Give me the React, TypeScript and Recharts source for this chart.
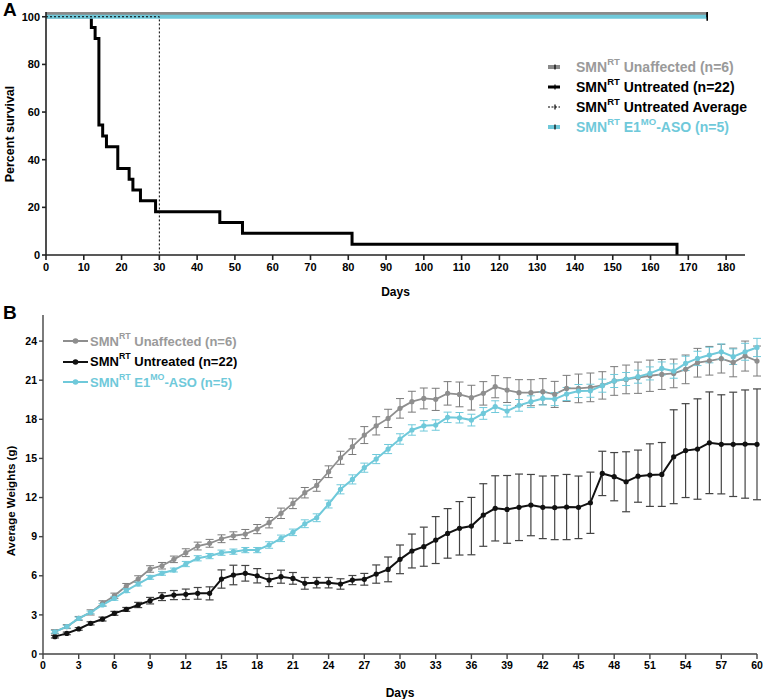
import React from 'react';
import { LineChart, Line, XAxis, YAxis, ErrorBar, Legend, Label } from 'recharts';

const FONT = '"Liberation Sans", Arial, Helvetica, sans-serif';
const GRAY = '#8e8e8e';
const CYAN = '#6fc9da';

// ---------- Panel A: survival ----------
const survivalXTicks = [0, 10, 20, 30, 40, 50, 60, 70, 80, 90, 100, 110, 120, 130, 140, 150, 160, 170, 180];
const survivalYTicks = [0, 20, 40, 60, 80, 100];
const untreatedDays = [0, 12, 13, 14, 15, 16, 19, 22, 23, 25, 29, 46, 52, 81, 167];
const untreatedSurvival = [100, 95.45, 90.91, 54.55, 50, 45.45, 36.36, 31.82, 27.27, 22.73, 18.18, 13.64, 9.09, 4.55, 0];
const unaffectedDays = [0, 175];
const unaffectedSurvival = [101.5, 101.5]; // drawn slightly offset above 100 as in the figure
const asoDays = [0, 175];
const asoSurvival = [100, 100];
const averageDays = [0, 30, 30];
const averageSurvival = [100, 100, 0];

// ---------- Panel B: weights ----------
const weightDays = Array.from({ length: 60 }, (_, i) => i + 1);
const weightXTicks = [0, 3, 6, 9, 12, 15, 18, 21, 24, 27, 30, 33, 36, 39, 42, 45, 48, 51, 54, 57, 60];
const weightYTicks = [0, 3, 6, 9, 12, 15, 18, 21, 24];
const unaffectedWeight = [
  1.71, 2.1, 2.73, 3.19, 3.88, 4.47, 5.21, 5.75, 6.52, 6.77,
  7.26, 7.77, 8.28, 8.49, 8.84, 9.07, 9.2, 9.58, 10.07, 10.79,
  11.55, 12.37, 12.93, 13.98, 15.05, 15.9, 16.79, 17.5, 18.07, 18.84,
  19.35, 19.6, 19.53, 19.99, 19.91, 19.66, 19.99, 20.5, 20.24, 20.04,
  20.04, 20.12, 19.91, 20.37, 20.37, 20.45, 20.6, 20.94, 21.06, 21.19,
  21.34, 21.44, 21.52, 21.83, 22.34, 22.49, 22.65, 22.36, 22.85, 22.47,
];
const unaffectedErr = [
  0.15, 0.15, 0.15, 0.2, 0.2, 0.2, 0.2, 0.25, 0.25, 0.25,
  0.25, 0.3, 0.3, 0.3, 0.3, 0.3, 0.35, 0.35, 0.4, 0.4,
  0.4, 0.4, 0.45, 0.45, 0.5, 0.6, 0.65, 0.7, 0.7, 0.75,
  0.8, 0.8, 0.85, 0.9, 0.95, 0.95, 0.9, 0.85, 0.95, 1.0,
  1.0, 1.0, 1.0, 1.0, 1.1, 1.1, 1.05, 1.1, 1.1, 1.2,
  1.2, 1.15, 1.1, 1.1, 1.1, 1.1, 1.1, 1.1, 1.15, 1.15,
];
const untreatedWeight = [
  1.33, 1.58, 1.92, 2.35, 2.68, 3.12, 3.42, 3.76, 4.09, 4.4,
  4.52, 4.58, 4.65, 4.65, 5.75, 6.06, 6.19, 6.0, 5.67, 5.93,
  5.8, 5.42, 5.47, 5.47, 5.37, 5.67, 5.73, 6.13, 6.49, 7.26,
  7.9, 8.23, 8.74, 9.25, 9.64, 9.81, 10.66, 11.17, 11.09, 11.25,
  11.42, 11.25, 11.22, 11.27, 11.25, 11.6, 13.85, 13.6, 13.21, 13.64,
  13.72, 13.77, 15.13, 15.6, 15.72, 16.2, 16.08, 16.08, 16.1, 16.08,
];
const untreatedErr = [
  0.1, 0.1, 0.1, 0.12, 0.15, 0.15, 0.15, 0.2, 0.25, 0.3,
  0.35, 0.4, 0.45, 0.5, 0.7, 0.75, 0.6, 0.55, 0.5, 0.5,
  0.45, 0.45, 0.4, 0.4, 0.4, 0.35, 0.45, 0.7, 0.95, 1.1,
  1.3, 1.5, 1.8, 1.9, 2.05, 2.2, 2.4, 2.5, 2.6, 2.55,
  2.35, 2.4, 2.45, 2.5, 2.4, 2.35, 1.7, 1.85, 2.3, 2.0,
  2.4, 2.45, 3.6, 3.6, 3.85, 3.9, 3.8, 4.0, 4.15, 4.25,
];
const asoWeight = [
  1.7, 2.1, 2.73, 3.19, 3.76, 4.27, 4.86, 5.37, 5.88, 6.19,
  6.44, 6.9, 7.34, 7.51, 7.77, 7.85, 7.97, 7.97, 8.36, 8.87,
  9.33, 9.99, 10.45, 11.5, 12.63, 13.39, 14.29, 14.95, 15.72, 16.49,
  17.18, 17.5, 17.56, 18.15, 18.12, 17.94, 18.45, 18.97, 18.63, 19.07,
  19.35, 19.6, 19.55, 19.94, 20.17, 20.19, 20.58, 20.94, 21.09, 21.27,
  21.52, 21.9, 21.7, 22.29, 22.67, 22.93, 23.18, 22.8, 23.18, 23.51,
];
const asoErr = [
  0.1, 0.1, 0.1, 0.1, 0.1, 0.15, 0.15, 0.15, 0.15, 0.15,
  0.15, 0.2, 0.2, 0.2, 0.2, 0.2, 0.2, 0.2, 0.25, 0.25,
  0.25, 0.3, 0.3, 0.3, 0.35, 0.35, 0.35, 0.35, 0.35, 0.4,
  0.4, 0.4, 0.4, 0.4, 0.4, 0.45, 0.45, 0.45, 0.45, 0.45,
  0.45, 0.5, 0.5, 0.5, 0.5, 0.5, 0.5, 0.5, 0.5, 0.5,
  0.5, 0.5, 0.55, 0.55, 0.55, 0.6, 0.6, 0.6, 0.65, 0.7,
];

const toPoints = (xs: number[], ys: number[]) => xs.map((x, i) => ({ day: x, v: ys[i] }));
const untreatedData = toPoints(untreatedDays, untreatedSurvival);
const unaffectedData = toPoints(unaffectedDays, unaffectedSurvival);
const asoData = toPoints(asoDays, asoSurvival);
const averageData = toPoints(averageDays, averageSurvival);

const weightData = weightDays.map((d, i) => ({
  day: d,
  unaffected: unaffectedWeight[i],
  unaffectedErr: unaffectedErr[i],
  untreated: untreatedWeight[i],
  untreatedErr: untreatedErr[i],
  aso: asoWeight[i],
  asoErr: asoErr[i],
}));

const tickStyle = { fontFamily: FONT, fontWeight: 700, fill: '#000' };

const CensorDot = (props: any) => {
  const { cx, cy, index } = props;
  if (index !== 1 || cx == null) return <g key={`c-${index}`} />;
  return <line key={`c-${index}`} x1={cx} x2={cx} y1={cy - 4} y2={cy + 4} stroke="#000" strokeWidth={1.6} />;
};

const supStyle: React.CSSProperties = { fontSize: '0.68em', verticalAlign: 'top', position: 'relative', top: -3 };

const Smn = ({ rest, sup2 }: { rest: string; sup2?: string }) => (
  <span>
    SMN<sup style={supStyle}>RT</sup>
    {sup2 ? (
      <>
        {' E1'}
        <sup style={supStyle}>{sup2}</sup>
        {rest}
      </>
    ) : (
      rest
    )}
  </span>
);

const SurvivalLegend = () => {
  const rows = [
    { color: '#9a9a9a', icon: 'gray', text: <Smn rest=" Unaffected (n=6)" /> },
    { color: '#000', icon: 'black', text: <Smn rest=" Untreated (n=22)" /> },
    { color: '#000', icon: 'dash', text: <Smn rest=" Untreated Average" /> },
    { color: CYAN, icon: 'cyan', text: <Smn rest="-ASO (n=5)" sup2="MO" /> },
  ];
  return (
    <div style={{ position: 'relative', width: 210, height: 80, fontFamily: FONT, fontWeight: 700, fontSize: 14 }}>
      {rows.map((r, i) => (
        <div key={i} style={{ position: 'absolute', left: 0, top: i * 20, height: 20, display: 'flex', alignItems: 'center', whiteSpace: 'nowrap', color: r.color }}>
          <svg width={12} height={10} style={{ marginRight: 16 }}>
            {r.icon === 'gray' && <line x1={0} x2={12} y1={5} y2={5} stroke="#8a8a8a" strokeWidth={4} />}
            {r.icon === 'black' && <line x1={0} x2={12} y1={5} y2={5} stroke="#000" strokeWidth={3} />}
            {r.icon === 'dash' && <line x1={0} x2={12} y1={5} y2={5} stroke="#000" strokeWidth={1} strokeDasharray="2 1.5" />}
            {r.icon === 'cyan' && <line x1={0} x2={12} y1={5} y2={5} stroke={CYAN} strokeWidth={4} />}
            <line x1={7} x2={7} y1={2.5} y2={7.5} stroke="#000" strokeWidth={1.2} />
          </svg>
          {r.text}
        </div>
      ))}
    </div>
  );
};

const WeightLegend = () => {
  const rows = [
    { color: '#9a9a9a', line: GRAY, text: <Smn rest=" Unaffected (n=6)" /> },
    { color: '#000', line: '#111', text: <Smn rest=" Untreated (n=22)" /> },
    { color: CYAN, line: CYAN, text: <Smn rest="-ASO (n=5)" sup2="MO" /> },
  ];
  return (
    <div style={{ position: 'relative', width: 220, height: 62, fontFamily: FONT, fontWeight: 700, fontSize: 13 }}>
      {rows.map((r, i) => (
        <div key={i} style={{ position: 'absolute', left: 0, top: i * 20.5, height: 20, display: 'flex', alignItems: 'center', whiteSpace: 'nowrap', color: r.color }}>
          <svg width={25} height={10} style={{ marginRight: 2 }}>
            <line x1={0} x2={25} y1={5} y2={5} stroke={r.line} strokeWidth={2} />
            <circle cx={12.5} cy={5} r={2.8} fill={r.line} />
          </svg>
          {r.text}
        </div>
      ))}
    </div>
  );
};

export default function App() {
  return (
    <div style={{ position: 'absolute', left: 0, top: 0, width: 764, height: 699, background: '#fff', overflow: 'hidden' }}>
      <div style={{ position: 'absolute', left: 3, top: -1, fontFamily: FONT, fontWeight: 700, fontSize: 19 }}>A</div>
      <div style={{ position: 'absolute', left: 3, top: 302, fontFamily: FONT, fontWeight: 700, fontSize: 19 }}>B</div>

      <div style={{ position: 'absolute', left: 0, top: 0 }}>
        <LineChart width={764} height={300} margin={{ top: 12, right: 19, bottom: 0, left: 6 }}>
          <XAxis
            type="number"
            dataKey="day"
            domain={[0, 185]}
            ticks={survivalXTicks}
            allowDataOverflow
            height={45}
            tick={{ ...tickStyle, fontSize: 11 }}
            tickSize={5}
            tickMargin={3}
            stroke="#222"
            strokeWidth={1.6}
          >
            <Label value="Days" position="insideBottom" offset={4} style={{ fontFamily: FONT, fontWeight: 700, fontSize: 12, fill: '#000' }} />
          </XAxis>
          <YAxis
            type="number"
            domain={[0, 102]}
            ticks={survivalYTicks}
            allowDataOverflow
            width={40}
            tick={{ ...tickStyle, fontSize: 11 }}
            tickSize={4}
            tickMargin={2}
            stroke="#222"
            strokeWidth={1.6}
          >
            <Label
              content={() => (
                <text x={10} y={134} transform="rotate(-90 10 134)" textAnchor="middle" dominantBaseline="central" style={{ fontFamily: FONT, fontWeight: 700, fontSize: 12.5, fill: '#000' }}>
                  Percent survival
                </text>
              )}
            />
          </YAxis>
          <Legend
            layout="vertical"
            align="center"
            verticalAlign="middle"
            content={<SurvivalLegend />}
            wrapperStyle={{ left: 548, top: 57, width: 215, height: 80 }}
          />
          <Line data={untreatedData} dataKey="v" type="stepAfter" stroke="#000" strokeWidth={3} dot={false} isAnimationActive={false} name="Untreated" />
          <Line data={unaffectedData} dataKey="v" type="linear" stroke="#8a8a8a" strokeWidth={4} dot={CensorDot} isAnimationActive={false} name="Unaffected" />
          <Line data={asoData} dataKey="v" type="linear" stroke={CYAN} strokeWidth={4} dot={CensorDot} isAnimationActive={false} name="ASO" />
          <Line data={averageData} dataKey="v" type="linear" stroke="#000" strokeWidth={1} strokeDasharray="2 2" dot={false} isAnimationActive={false} name="Average" />
        </LineChart>
      </div>

      <div style={{ position: 'absolute', left: 0, top: 300 }}>
        <LineChart width={764} height={399} data={weightData} margin={{ top: 15, right: 7, bottom: 0, left: 6 }}>
          <XAxis
            type="number"
            dataKey="day"
            domain={[0, 60]}
            ticks={weightXTicks}
            height={45}
            tick={{ ...tickStyle, fontSize: 10.5 }}
            tickSize={5}
            tickMargin={3}
            stroke="#444"
            strokeWidth={1.4}
          >
            <Label value="Days" position="insideBottom" offset={2} style={{ fontFamily: FONT, fontWeight: 700, fontSize: 12, fill: '#000' }} />
          </XAxis>
          <YAxis
            type="number"
            domain={[0, 26]}
            ticks={weightYTicks}
            width={37}
            tick={{ ...tickStyle, fontSize: 10.5 }}
            tickSize={4}
            tickMargin={2}
            stroke="#444"
            strokeWidth={1.4}
          >
            <Label
              content={() => (
                <text x={11} y={201} transform="rotate(-90 11 201)" textAnchor="middle" dominantBaseline="central" style={{ fontFamily: FONT, fontWeight: 700, fontSize: 11.5, fill: '#000' }}>
                  Average Weights (g)
                </text>
              )}
            />
          </YAxis>
          <Legend
            layout="vertical"
            align="center"
            verticalAlign="middle"
            content={<WeightLegend />}
            wrapperStyle={{ left: 63, top: 31, width: 230, height: 62 }}
          />
          <Line dataKey="unaffected" stroke={GRAY} strokeWidth={1.8} dot={{ r: 2.6, fill: GRAY, stroke: GRAY, strokeWidth: 0 }} isAnimationActive={false}>
            <ErrorBar dataKey="unaffectedErr" direction="y" width={4} stroke="#7a7a7a" strokeWidth={1} />
          </Line>
          <Line dataKey="untreated" stroke="#111" strokeWidth={2} dot={{ r: 2.6, fill: '#111', stroke: '#111', strokeWidth: 0 }} isAnimationActive={false}>
            <ErrorBar dataKey="untreatedErr" direction="y" width={4} stroke="#444" strokeWidth={1.2} />
          </Line>
          <Line dataKey="aso" stroke={CYAN} strokeWidth={2} dot={{ r: 2.6, fill: CYAN, stroke: CYAN, strokeWidth: 0 }} isAnimationActive={false}>
            <ErrorBar dataKey="asoErr" direction="y" width={4} stroke={CYAN} strokeWidth={1} />
          </Line>
        </LineChart>
      </div>
    </div>
  );
}
